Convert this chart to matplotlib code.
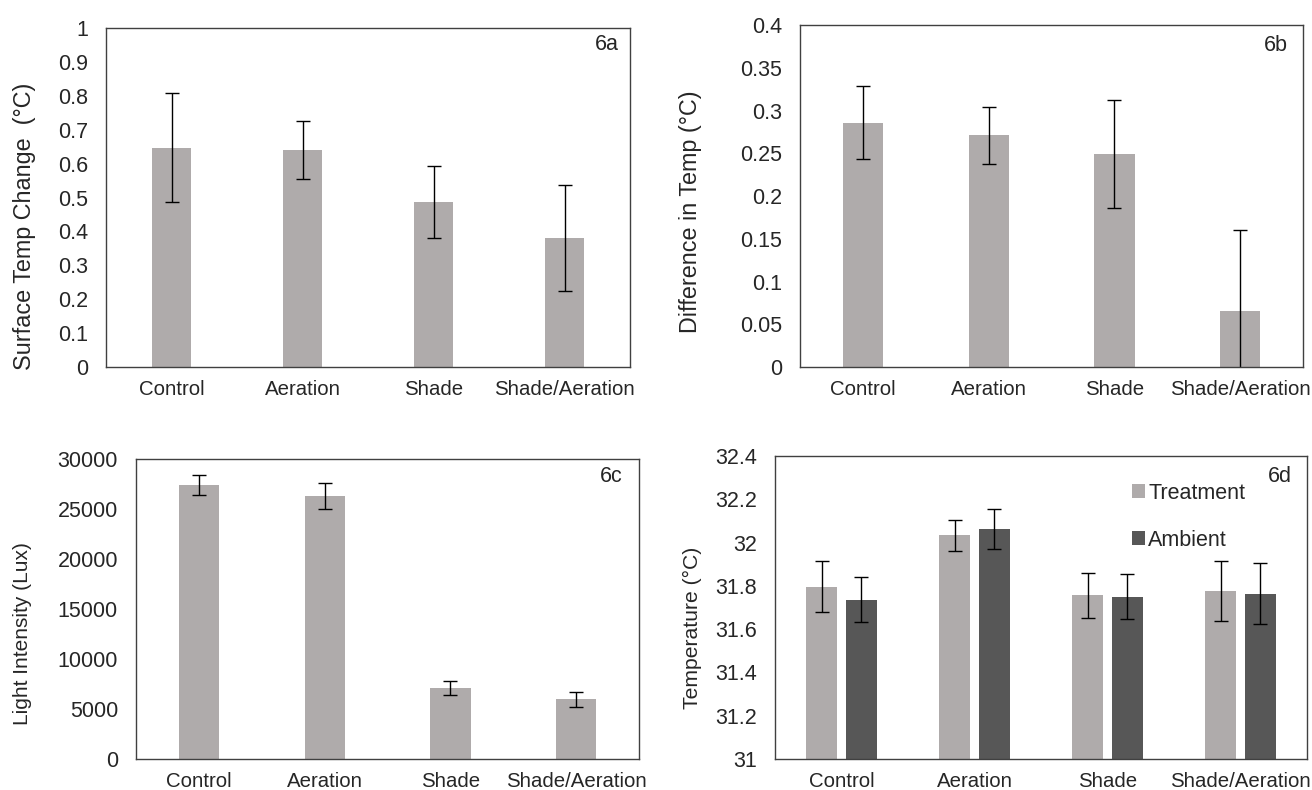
import matplotlib
matplotlib.use("Agg")
import matplotlib.pyplot as plt
import numpy as np

plt.rcParams['font.family'] = ['Liberation Sans', 'DejaVu Sans']
plt.rcParams['font.size'] = 15

categories = ['Control', 'Aeration', 'Shade', 'Shade/Aeration']

# 6a - surface temp change
surf_change = [0.647, 0.641, 0.487, 0.381]
surf_err = [0.160, 0.086, 0.107, 0.157]

# 6b - difference in temp
temp_diff = [0.286, 0.271, 0.249, 0.066]
temp_diff_err = [0.043, 0.033, 0.063, 0.094]

# 6c - light intensity
light = [27450, 26350, 7080, 5980]
light_err = [1000, 1300, 700, 770]

# 6d - treatment vs ambient temperature
treatment = [31.796, 32.033, 31.756, 31.776]
treatment_err = [0.117, 0.073, 0.103, 0.138]
ambient = [31.737, 32.064, 31.750, 31.764]
ambient_err = [0.106, 0.093, 0.103, 0.142]

LIGHT = '#afabab'
DARK = '#575757'
TXT = '#262626'


def style_axes(ax, yticks, tag, tag_xy, label, label_size, label_xy):
    ax.set_xlim(-0.5, 3.5)
    ax.set_xticks(range(len(categories)))
    ax.set_xticklabels(categories)
    ax.set_ylim(yticks[0], yticks[-1])
    ax.set_yticks(yticks)
    ax.set_yticklabels(['%g' % round(t, 4) for t in yticks])
    ax.tick_params(axis='both', length=0, colors=TXT)
    ax.tick_params(axis='y', pad=13, labelsize=15.5)
    ax.tick_params(axis='x', pad=9, labelsize=14.7)
    for s in ax.spines.values():
        s.set_color('#404040')
        s.set_linewidth(1.0)
    ax.text(tag_xy[0], tag_xy[1], tag, transform=ax.transAxes, ha='right',
            va='center', fontsize=15.5, color=TXT)
    ax.set_ylabel(label, color=TXT, fontsize=label_size)
    ax.yaxis.set_label_coords(*label_xy)


ebar = dict(ecolor='black', elinewidth=1.0, capsize=4.7, capthick=1.0)

fig = plt.figure(figsize=(13.12, 7.9), dpi=100)

x = np.arange(len(categories))

# 6a
ax = fig.add_axes([0.0808, 0.5354, 0.3994, 0.4291])
ax.bar(x, surf_change, width=0.3, color=LIGHT, yerr=surf_err, error_kw=ebar)
style_axes(ax, np.round(np.arange(0, 1.01, 0.1), 2), '6a', (0.979, 0.95),
           'Surface Temp Change  (\u00b0C)', 16.8, (-0.134, 0.416))

# 6b
ax = fig.add_axes([0.6098, 0.5354, 0.3834, 0.4329])
ax.bar(x, temp_diff, width=0.32, color=LIGHT, yerr=temp_diff_err, error_kw=ebar)
style_axes(ax, np.round(np.arange(0, 0.401, 0.05), 3), '6b', (0.970, 0.94),
           'Difference in Temp (\u00b0C)', 16.8, (-0.195, 0.453))

# 6c
ax = fig.add_axes([0.1037, 0.0392, 0.3834, 0.3797])
ax.bar(x, light, width=0.32, color=LIGHT, yerr=light_err, error_kw=ebar)
style_axes(ax, np.arange(0, 30001, 5000), '6c', (0.968, 0.943),
           'Light Intensity (Lux)', 15, (-0.207, 0.417))

# 6d
ax = fig.add_axes([0.5907, 0.0392, 0.4055, 0.3835])
off = 0.149
ax.bar(x - off, treatment, width=0.23, color=LIGHT, yerr=treatment_err,
       error_kw=ebar, label='Treatment')
ax.bar(x + off, ambient, width=0.23, color=DARK, yerr=ambient_err,
       error_kw=ebar, label='Ambient')
style_axes(ax, np.round(np.arange(31, 32.41, 0.2), 1), '6d', (0.972, 0.934),
           'Temperature (\u00b0C)', 15.2, (-0.137, 0.432))
leg = ax.legend(loc='upper left', bbox_to_anchor=(0.655, 0.94), frameon=False,
                handlelength=0.6, handleheight=0.6, handletextpad=0.15,
                labelspacing=1.2, fontsize=15.5, borderaxespad=0)
for t in leg.get_texts():
    t.set_color(TXT)

fig.savefig('out.png', dpi=100)
